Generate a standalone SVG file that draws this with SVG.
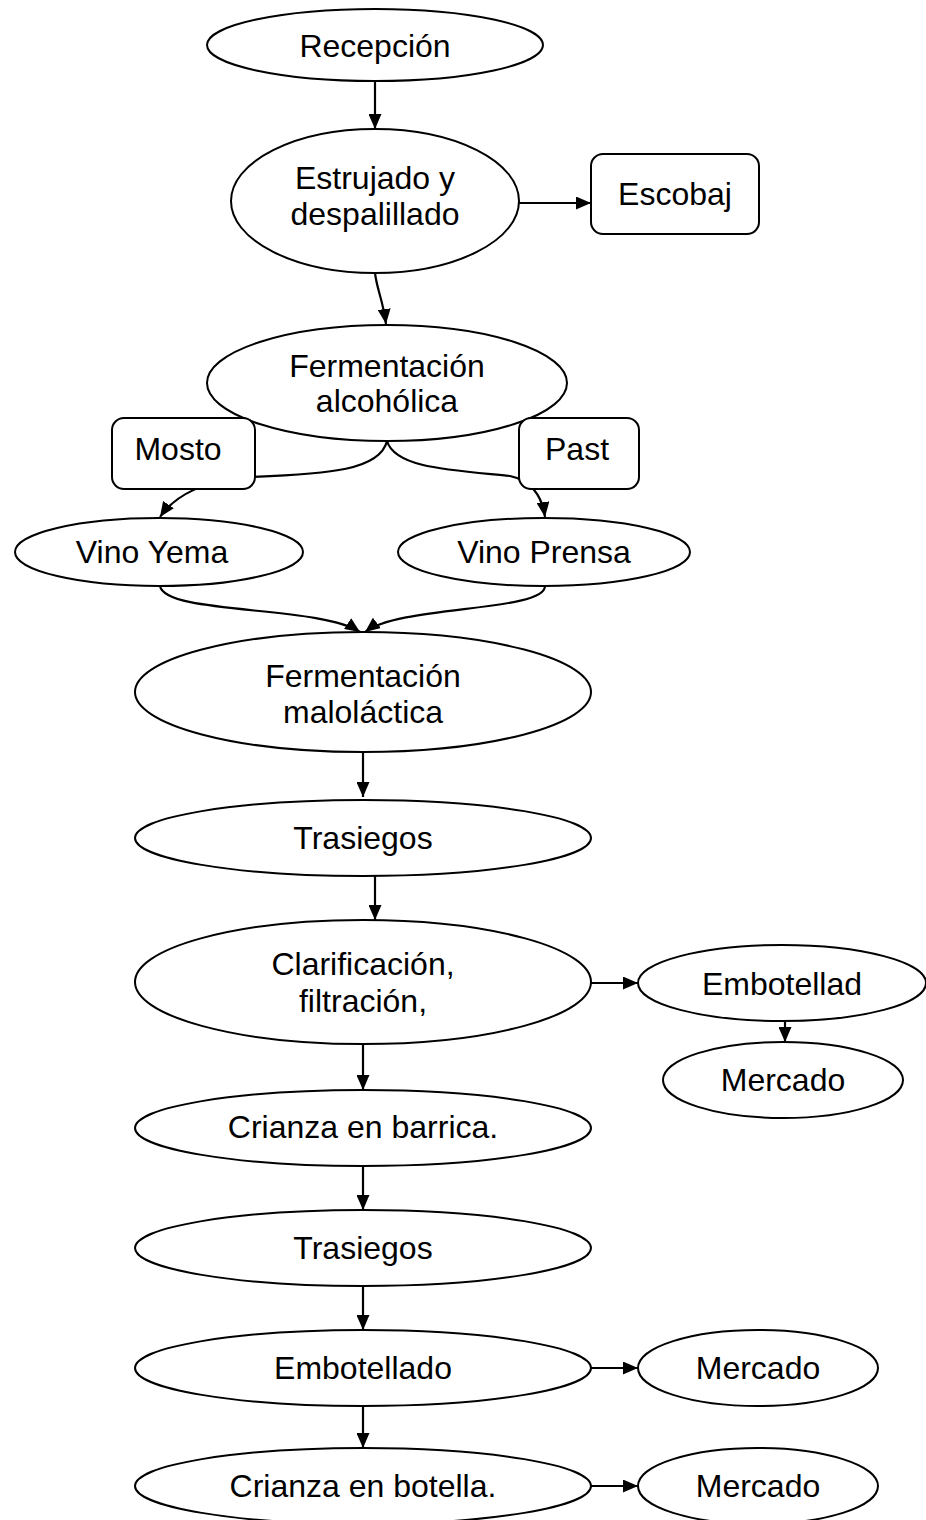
<svg xmlns="http://www.w3.org/2000/svg" width="926" height="1520" viewBox="0 0 926 1520">
<style>
.n{fill:#fff;stroke:#000;stroke-width:2}
.t{font-family:"Liberation Sans",Arial,sans-serif;font-size:32px;fill:#000;text-anchor:middle}
.c{fill:none;stroke:#000;stroke-width:2.2}
</style>
<defs>
<marker id="ah" viewBox="0 0 15 13" refX="15" refY="6.5" markerWidth="15" markerHeight="13" markerUnits="userSpaceOnUse" orient="auto">
<path d="M0,0 L15,6.5 L0,13 Z" fill="#000"/>
</marker>
</defs>
<rect width="926" height="1520" fill="#fff"/>
<g id="connectors">
<path class="c" d="M375,81 L375,129" marker-end="url(#ah)"/>
<path class="c" d="M519,203 L591,203" marker-end="url(#ah)"/>
<path class="c" d="M375,273 C377,290 383,300 386,324" marker-end="url(#ah)"/>
<path class="c" d="M387,441 C380,470 330,474 250,477 C205,480 175,495 160,517" marker-end="url(#ah)"/>
<path class="c" d="M387,441 C395,468 450,470 510,476 C530,480 542,495 545,517" marker-end="url(#ah)"/>
<path class="c" d="M160,586 C165,615 320,605 360,632" marker-end="url(#ah)"/>
<path class="c" d="M545,586 C545,612 400,605 365,632" marker-end="url(#ah)"/>
<path class="c" d="M363,752 L363,797" marker-end="url(#ah)"/>
<path class="c" d="M375,876 L375,920" marker-end="url(#ah)"/>
<path class="c" d="M591,983 L638,983" marker-end="url(#ah)"/>
<path class="c" d="M785,1021 L785,1042" marker-end="url(#ah)"/>
<path class="c" d="M363,1044 L363,1090" marker-end="url(#ah)"/>
<path class="c" d="M363,1166 L363,1210" marker-end="url(#ah)"/>
<path class="c" d="M363,1286 L363,1330" marker-end="url(#ah)"/>
<path class="c" d="M591,1368 L638,1368" marker-end="url(#ah)"/>
<path class="c" d="M363,1406 L363,1448" marker-end="url(#ah)"/>
<path class="c" d="M591,1486 L638,1486" marker-end="url(#ah)"/>
</g>
<g id="recepcion"><ellipse class="n" cx="375" cy="45" rx="168" ry="36"/><text class="t" x="375" y="57">Recepción</text></g>
<g id="estrujado"><ellipse class="n" cx="375" cy="201" rx="144" ry="72"/><text class="t" x="375" y="189">Estrujado y</text><text class="t" x="375" y="225">despalillado</text></g>
<g id="escobaj"><rect class="n" x="591" y="154" width="168" height="80" rx="12"/><text class="t" x="675" y="205">Escobaj</text></g>
<g id="ferm-alc"><ellipse class="n" cx="387" cy="383" rx="180" ry="58"/><text class="t" x="387" y="377">Fermentación</text><text class="t" x="387" y="412">alcohólica</text></g>
<g id="mosto"><rect class="n" x="112" y="418" width="143" height="71" rx="12"/><text class="t" x="178" y="460">Mosto</text></g>
<g id="past"><rect class="n" x="519" y="418" width="120" height="71" rx="12"/><text class="t" x="577" y="460">Past</text></g>
<g id="vino-yema"><ellipse class="n" cx="159" cy="552" rx="144" ry="34"/><text class="t" x="152" y="563">Vino Yema</text></g>
<g id="vino-prensa"><ellipse class="n" cx="544" cy="552" rx="146" ry="34"/><text class="t" x="544" y="563">Vino Prensa</text></g>
<g id="ferm-malo"><ellipse class="n" cx="363" cy="692" rx="228" ry="60"/><text class="t" x="363" y="687">Fermentación</text><text class="t" x="363" y="723">maloláctica</text></g>
<g id="trasiegos1"><ellipse class="n" cx="363" cy="838" rx="228" ry="38"/><text class="t" x="363" y="849">Trasiegos</text></g>
<g id="clarificacion"><ellipse class="n" cx="363" cy="982" rx="228" ry="62"/><text class="t" x="363" y="975">Clarificación,</text><text class="t" x="363" y="1012">filtración,</text></g>
<g id="embotellad"><ellipse class="n" cx="782" cy="983" rx="144" ry="38"/><text class="t" x="782" y="995">Embotellad</text></g>
<g id="mercado1"><ellipse class="n" cx="783" cy="1080" rx="120" ry="38"/><text class="t" x="783" y="1091">Mercado</text></g>
<g id="crianza-barrica"><ellipse class="n" cx="363" cy="1128" rx="228" ry="38"/><text class="t" x="363" y="1138">Crianza en barrica.</text></g>
<g id="trasiegos2"><ellipse class="n" cx="363" cy="1248" rx="228" ry="38"/><text class="t" x="363" y="1259">Trasiegos</text></g>
<g id="embotellado"><ellipse class="n" cx="363" cy="1368" rx="228" ry="38"/><text class="t" x="363" y="1379">Embotellado</text></g>
<g id="mercado2"><ellipse class="n" cx="758" cy="1368" rx="120" ry="38"/><text class="t" x="758" y="1379">Mercado</text></g>
<g id="crianza-botella"><ellipse class="n" cx="363" cy="1486" rx="228" ry="38"/><text class="t" x="363" y="1497">Crianza en botella.</text></g>
<g id="mercado3"><ellipse class="n" cx="758" cy="1486" rx="120" ry="38"/><text class="t" x="758" y="1497">Mercado</text></g>
</svg>
